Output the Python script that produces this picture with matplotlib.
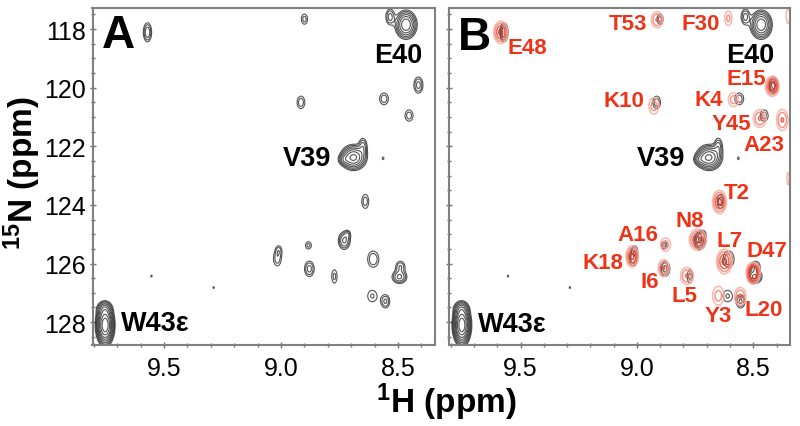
import numpy as np
import matplotlib
matplotlib.use('Agg')
import matplotlib.pyplot as plt
from matplotlib.ticker import MultipleLocator

plt.rcParams['font.family'] = ['Liberation Sans', 'DejaVu Sans']
plt.rcParams['mathtext.default'] = 'regular'

# black peaks: 1H, 15N, height, width in 1H, width in 15N
black_h = [9.571, 8.90, 8.534, 8.466, 8.413, 8.56, 8.915, 8.453, 8.69, 8.65, 8.73, 8.564, 8.64,
           8.73, 8.715, 8.883, 9.016, 9.01, 8.606, 8.879, 8.772, 8.49, 8.494, 8.61, 8.554,
           9.554, 9.288, 9.752, 9.755]
black_n = [118.11, 117.66, 117.58, 117.85, 119.91, 120.38, 120.5, 120.95, 122.38, 122.0, 122.45, 122.41, 123.88,
           125.22, 125.0, 125.38, 125.85, 125.55, 125.85, 126.18, 126.44, 126.1, 126.46, 127.11, 127.29,
           126.43, 126.82, 128.1, 127.55]
black_a = [3, 1.8, 2.6, 9, 2.6, 2, 2, 1.9, 10, 2.5, 2.4, 1.3, 1.9,
           3.5, 1.5, 1.7, 1.9, 1.6, 2.2, 2.6, 1.7, 2.2, 3.5, 1.6, 2.4,
           1.2, 1.2, 24, 4]
black_sh = [.012, .012, .013, .023, .014, .016, .014, .015, .027, .012, .015, .005, .013,
            .016, .009, .012, .014, .011, .019, .015, .011, .015, .020, .020, .014,
            .005, .005, .017, .018]
black_sn = [.22, .16, .19, .24, .20, .17, .18, .17, .21, .20, .11, .06, .21,
            .19, .10, .12, .20, .14, .22, .19, .22, .14, .14, .20, .17,
            .05, .05, .30, .14]

# red peaks of panel B
red_h = [9.585, 8.913, 8.607, 8.418, 8.585, 8.927, 8.472, 8.375, 8.645, 8.35, 8.35,
         8.738, 8.877, 9.02, 8.624, 8.885, 8.785, 8.5, 8.5, 8.65, 8.556]
red_n = [118.11, 117.68, 117.63, 119.95, 120.41, 120.62, 121.05, 121.1, 123.9, 117.55, 123.1,
         125.19, 125.35, 125.76, 125.93, 126.16, 126.42, 126.2, 126.42, 127.1, 127.12]
red_a = [4, 2.6, 1.8, 4.5, 2, 2, 2.6, 2.6, 4, 1.6, 1.6,
         4, 2, 4, 4, 2.6, 2.6, 3.5, 4, 2, 2.6]
red_sh = [.018, .018, .014, .017, .019, .018, .020, .018, .018, .008, .005,
          .022, .018, .016, .020, .017, .020, .016, .016, .021, .018]
red_sn = [.23, .20, .23, .20, .20, .24, .22, .26, .24, .26, .22,
          .22, .19, .22, .25, .21, .21, .15, .17, .27, .22]

# text labels: name, 1H, 15N
labels_a = [('E40', 8.501, 118.88), ('V39', 8.89, 122.41), ('W43ε', 9.538, 128.04)]
labels_b_black = [('E40', 8.513, 118.88), ('V39', 8.895, 122.41), ('W43ε', 9.535, 128.07)]
labels_b_red = [('E48', 9.471, 118.63), ('T53', 9.037, 117.8), ('F30', 8.724, 117.8),
                ('E15', 8.529, 119.67), ('K10', 9.056, 120.45), ('K4', 8.691, 120.39),
                ('Y45', 8.593, 121.21), ('A23', 8.453, 121.95), ('T2', 8.57, 123.57),
                ('N8', 8.774, 124.54), ('A16', 8.994, 125.01), ('K18', 9.144, 125.96),
                ('L7', 8.6, 125.2), ('D47', 8.442, 125.54), ('I6', 8.944, 126.62),
                ('L5', 8.795, 127.08), ('Y3', 8.651, 127.78), ('L20', 8.453, 127.56)]

x_ticks = [9.5, 9.0, 8.5]
y_ticks = [118, 120, 122, 124, 126, 128]
levels = [1, 1.5, 2.2, 3.2, 4.6, 6.5, 9, 13, 18]
red_levels = [1, 1.6, 2.5, 3.6]
red_colors = ['#f9b0a6', '#f58a7c', '#ee5844', '#e0301e']
RED = '#ee3418'

hh, nn = np.meshgrid(np.linspace(8.33, 9.82, 1200), np.linspace(117.2, 128.9, 1400))


def field(h, n, a, sh, sn):
    z = np.zeros_like(hh)
    for i in range(len(h)):
        z += a[i] * np.exp(-(hh - h[i])**2 / (2 * sh[i]**2) - (nn - n[i])**2 / (2 * sn[i]**2))
    return z


def setup(ax):
    ax.set_xlim(9.806, 8.342)
    ax.set_ylim(128.78, 117.28)
    ax.set_xticks(x_ticks)
    ax.set_yticks(y_ticks)
    ax.xaxis.set_minor_locator(MultipleLocator(0.1))
    ax.yaxis.set_minor_locator(MultipleLocator(0.5))
    ax.tick_params(axis='both', which='major', direction='inout', length=4, width=1, color='#707070', labelsize=18, pad=3)
    ax.tick_params(axis='x', which='major', pad=6)
    ax.tick_params(axis='both', which='minor', direction='inout', length=3, width=1, color='#707070')
    for s in ax.spines.values():
        s.set_color('#808080')
        s.set_linewidth(1.5)


fig = plt.figure(figsize=(8, 4.27), dpi=100)
ax_a = fig.add_axes([92.5 / 800, 1 - 346 / 427, 342.5 / 800, 337 / 427])
ax_b = fig.add_axes([449.3 / 800, 1 - 346 / 427, 340.7 / 800, 337 / 427])

black_z = field(black_h, black_n, black_a, black_sh, black_sn)
red_z = field(red_h, red_n, red_a, red_sh, red_sn)

for ax in (ax_a, ax_b):
    setup(ax)
    ax.contour(hh, nn, black_z, levels=levels, colors='#2a2a2a', linewidths=0.8, alpha=0.8)
ax_b.contour(hh, nn, red_z, levels=red_levels, colors=red_colors, linewidths=1.1, alpha=0.9)
ax_b.set_yticklabels([])

ax_a.text(9.695, 118.2, 'A', fontsize=33, fontweight='bold', ha='center', va='center')
ax_b.text(9.70, 118.27, 'B', fontsize=33, fontweight='bold', ha='center', va='center')
for name, h, n in labels_a:
    ax_a.text(h, n, name, fontsize=19.5, fontweight='bold', ha='center', va='center')
for name, h, n in labels_b_black:
    ax_b.text(h, n, name, fontsize=19.5, fontweight='bold', ha='center', va='center')
for name, h, n in labels_b_red:
    ax_b.text(h, n, name, fontsize=16, fontweight='bold', color=RED, ha='center', va='center')

fig.text(446 / 800, 1 - 402 / 427, '$^{1}$H (ppm)', fontsize=24, fontweight='bold', ha='center', va='center')
fig.text(22 / 800, 1 - 173 / 427, '$^{15}$N (ppm)', fontsize=24, fontweight='bold', ha='center', va='center', rotation=90)

fig.savefig('out.png', dpi=100)
